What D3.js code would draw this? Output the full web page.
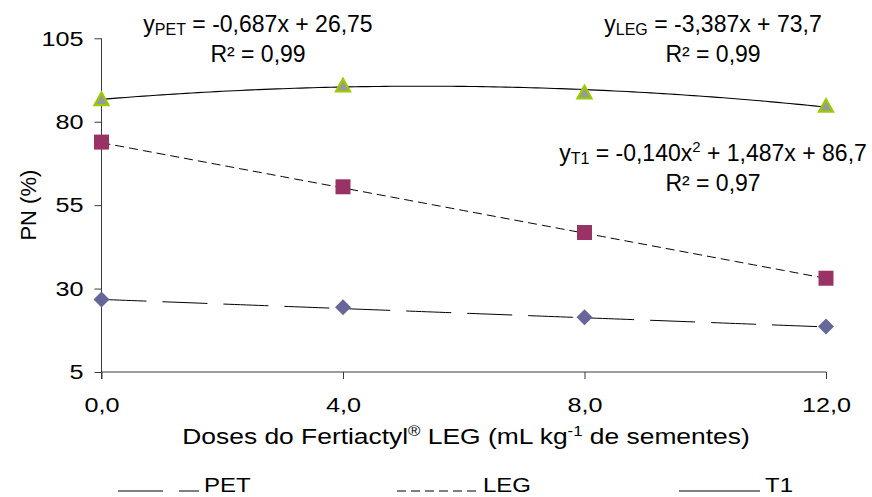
<!DOCTYPE html>
<html>
<head>
<meta charset="utf-8">
<script src="https://cdn.jsdelivr.net/npm/d3@7"></script>
<style>
  html, body { margin: 0; padding: 0; background: #fff; }
  svg { display: block; font-family: "Liberation Sans", Arial, sans-serif; }
</style>
</head>
<body>
<svg id="chart" width="872" height="497"></svg>
<script>
// Doses of Fertiactyl LEG (mL per kg of seeds)
const doses = [0, 4, 8, 12];

// Observed PN (%) per treatment
const petValues = [26.7, 24.4, 21.4, 18.6];
const legValues = [73.9, 60.5, 46.8, 33.1];
const t1Values  = [86.8, 90.9, 88.8, 84.8];

// Fitted trend coefficients: c0 + c1*x + c2*x^2
const petCoef = [26.75, -0.687];
const legCoef = [73.7, -3.387];
const t1Coef  = [86.7, 1.487, -0.140];

// Axis ticks
const xTicks = [0, 4, 8, 12];
const xTickLabels = ["0,0", "4,0", "8,0", "12,0"];
const yTicks = [5, 30, 55, 80, 105];

const svg = d3.select("#chart");
const margin = { left: 101.5, right: 46, top: 38.3, bottom: 125 };
const W = 872, H = 497;

const x = d3.scaleLinear().domain([0, 12]).range([margin.left, W - margin.right]);
const y = d3.scaleLinear().domain([5, 105]).range([372, margin.top]);

const axisColor = "#3a3a3a";
const fontSize = 23;
const stretch = 1.2;   // wide lettering for axis text

// Y axis
const yAxis = svg.append("g")
  .attr("transform", `translate(${x(0)},0)`)
  .call(d3.axisLeft(y).tickValues(yTicks).tickSize(7).tickFormat(d3.format("d")));
yAxis.select(".domain").attr("stroke", axisColor).attr("d", `M0,${y(105)}V${y(5) + 7}`);
yAxis.selectAll(".tick line").attr("stroke", axisColor);
yAxis.selectAll(".tick text")
  .attr("font-size", 21).attr("fill", "#000")
  .attr("font-family", "Liberation Sans, Arial, sans-serif")
  .attr("x", -18 / stretch)
  .attr("transform", `scale(${stretch},1)`);

// X axis
const xAxis = svg.append("g")
  .attr("transform", `translate(0,${y(5)})`)
  .call(d3.axisBottom(x).tickValues(xTicks).tickSize(7).tickPadding(20)
    .tickFormat((d, i) => xTickLabels[i]));
xAxis.select(".domain").attr("stroke", axisColor).attr("d", `M${x(0)},0H${x(12)}`);
xAxis.selectAll(".tick line").attr("stroke", axisColor);
xAxis.selectAll(".tick text")
  .attr("font-size", 21).attr("fill", "#000")
  .attr("font-family", "Liberation Sans, Arial, sans-serif")
  .attr("dy", "0.6em")
  .attr("transform", `scale(${stretch},1)`);

// Axis titles
const xTitle = svg.append("text")
  .attr("transform", `translate(466,444) scale(${stretch},1)`)
  .attr("text-anchor", "middle").attr("font-size", 22);
xTitle.append("tspan").text("Doses do Fertiactyl");
xTitle.append("tspan").text("®").attr("font-size", 14).attr("dy", -8);
xTitle.append("tspan").text(" LEG (mL kg").attr("dy", 8);
xTitle.append("tspan").text("-1").attr("font-size", 14).attr("dy", -8);
xTitle.append("tspan").text(" de sementes)").attr("dy", 8);

svg.append("text")
  .attr("transform", `translate(36,${(y(5) + y(105)) / 2}) rotate(-90)`)
  .attr("text-anchor", "middle").attr("font-size", 22)
  .text("PN (%)");

// Trend lines from the fitted equations
const poly = c => v => c.reduce((s, k, i) => s + k * Math.pow(v, i), 0);
const xs = d3.range(0, 12.0001, 0.1);
const line = d3.line().x(d => x(d[0])).y(d => y(d[1]));

svg.append("path").datum(xs.map(v => [v, poly(petCoef)(v)]))
  .attr("d", line).attr("fill", "none").attr("stroke", "#000").attr("stroke-width", 1)
  .attr("stroke-dasharray", "45,16");
svg.append("path").datum(xs.map(v => [v, poly(legCoef)(v)]))
  .attr("d", line).attr("fill", "none").attr("stroke", "#000").attr("stroke-width", 1)
  .attr("stroke-dasharray", "9,5");
svg.append("path").datum(xs.map(v => [v, poly(t1Coef)(v)]))
  .attr("d", line).attr("fill", "none").attr("stroke", "#000").attr("stroke-width", 1.1);

// Markers
svg.append("g").selectAll("path").data(doses)
  .join("path")
  .attr("transform", (d, i) => `translate(${x(d)},${y(petValues[i])})`)
  .attr("d", "M0,-8L8,0L0,8L-8,0Z")
  .attr("fill", "#666699");

svg.append("g").selectAll("rect").data(doses)
  .join("rect")
  .attr("x", d => x(d) - 7.5)
  .attr("y", (d, i) => y(legValues[i]) - 7.5)
  .attr("width", 15).attr("height", 15)
  .attr("fill", "#993366");

svg.append("g").selectAll("path").data(doses)
  .join("path")
  .attr("transform", (d, i) => `translate(${x(d)},${y(t1Values[i])})`)
  .attr("d", "M0,-6.5L7,6L-7,6Z")
  .attr("fill", "#999999").attr("stroke", "#99cc00").attr("stroke-width", 2.2)
  .attr("stroke-linejoin", "miter");

// Equation labels
function equation(cx, by, sub, rest, r2, sup) {
  const t = svg.append("text").attr("x", cx).attr("y", by)
    .attr("text-anchor", "middle").attr("font-size", fontSize);
  t.append("tspan").text("y");
  t.append("tspan").text(sub).attr("font-size", 16).attr("dy", 3);
  if (sup) {
    t.append("tspan").text(rest[0]).attr("dy", -3);
    t.append("tspan").text("2").attr("font-size", 15).attr("dy", -9);
    t.append("tspan").text(rest[1]).attr("dy", 9);
  } else {
    t.append("tspan").text(rest).attr("dy", -3);
  }
  svg.append("text").attr("x", cx).attr("y", by + 30)
    .attr("text-anchor", "middle").attr("font-size", fontSize)
    .text(r2);
}

equation(258, 32, "PET", " = -0,687x + 26,75", "R² = 0,99");
equation(713, 32, "LEG", " = -3,387x + 73,7", "R² = 0,99");
equation(713, 161, "T1", [" = -0,140x", " + 1,487x + 86,7"], "R² = 0,97", true);

// Legend
const legY = 491;
const legend = [
  { x: 118, dash: "45,16", label: "PET" },
  { x: 397, dash: "9,5", label: "LEG" },
  { x: 679, dash: null, label: "T1" }
];
const lg = svg.append("g").selectAll("g").data(legend).join("g");
lg.append("line")
  .attr("x1", d => d.x).attr("x2", d => d.x + 81)
  .attr("y1", legY).attr("y2", legY)
  .attr("stroke", "#000").attr("stroke-width", 1)
  .attr("stroke-dasharray", d => d.dash);
lg.append("text")
  .attr("transform", d => `translate(${d.x + 86},492) scale(1.2,1)`)
  .attr("font-size", 20)
  .text(d => d.label);
</script>
</body>
</html>
